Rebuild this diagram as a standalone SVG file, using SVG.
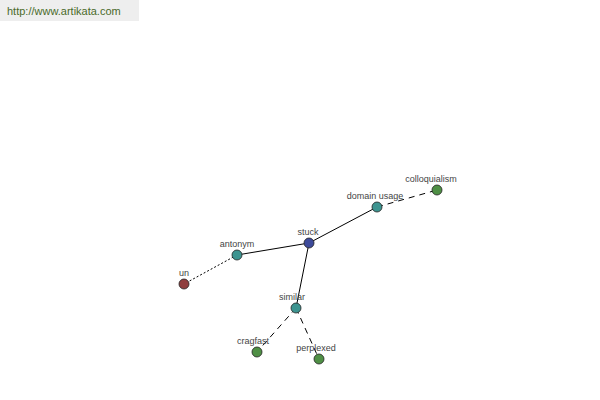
<svg xmlns="http://www.w3.org/2000/svg" width="600" height="400" viewBox="0 0 600 400">
<style>
text{font-family:"Liberation Sans",Arial,sans-serif}
.lbl{font-size:9px;fill:#444;text-anchor:middle}
.n{stroke:#222;stroke-width:0.8}
.c{stroke:#000;stroke-width:1;fill:none}
.blue{fill:#3d4a9a}.teal{fill:#3d9490}.green{fill:#4f8f45}.red{fill:#8f3d3d}
</style>
<rect x="0" y="0" width="139" height="21" fill="#eeeeee"/>
<text x="7" y="15" font-size="11" fill="#4a6a2a">http://www.artikata.com</text>
<g id="connectors">
<line class="c" x1="309" y1="243" x2="237" y2="255"/>
<line class="c" x1="309" y1="243" x2="377" y2="207"/>
<line class="c" x1="309" y1="243" x2="296" y2="308"/>
<line class="c" x1="237" y1="255" x2="184" y2="284" stroke-dasharray="2,2"/>
<line class="c" x1="377" y1="207" x2="437" y2="190" stroke-dasharray="6,5"/>
<line class="c" x1="296" y1="308" x2="257" y2="352" stroke-dasharray="6,5"/>
<line class="c" x1="296" y1="308" x2="319" y2="359" stroke-dasharray="6,5"/>
</g>
<g id="stuck"><circle class="n blue" cx="309" cy="243" r="5"/><text class="lbl" x="308" y="235">stuck</text></g>
<g id="antonym"><circle class="n teal" cx="237" cy="255" r="5"/><text class="lbl" x="237" y="247">antonym</text></g>
<g id="un"><circle class="n red" cx="184" cy="284" r="5"/><text class="lbl" x="184" y="276">un</text></g>
<g id="domain_usage"><circle class="n teal" cx="377" cy="207" r="5"/><text class="lbl" x="375" y="199">domain usage</text></g>
<g id="colloquialism"><circle class="n green" cx="437" cy="190" r="5"/><text class="lbl" x="431" y="182">colloquialism</text></g>
<g id="similar"><circle class="n teal" cx="296" cy="308" r="5"/><text class="lbl" x="292" y="300">similar</text></g>
<g id="cragfast"><circle class="n green" cx="257" cy="352" r="5"/><text class="lbl" x="253" y="344">cragfast</text></g>
<g id="perplexed"><circle class="n green" cx="319" cy="359" r="5"/><text class="lbl" x="316" y="351">perplexed</text></g>
</svg>
